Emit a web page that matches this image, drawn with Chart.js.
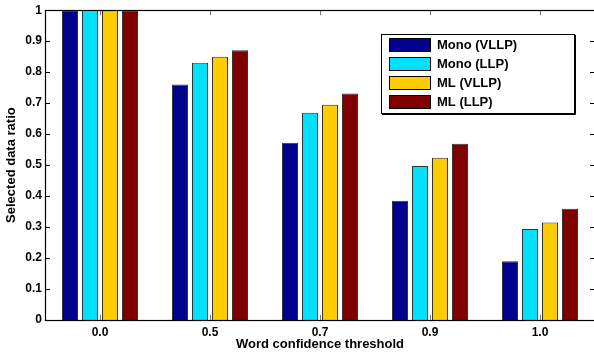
<!DOCTYPE html>
<html>
<head>
<meta charset="utf-8">
<script src="https://cdn.jsdelivr.net/npm/chart.js@4/dist/chart.umd.min.js"></script>
<style>
  html, body { margin: 0; padding: 0; background: #fff; overflow: hidden; }
  #wrap { width: 596px; height: 354px; }
</style>
</head>
<body>
<div id="wrap"><canvas id="c" width="596" height="354"></canvas></div>
<script>
// ---- data ----
const categories = ['0.0', '0.5', '0.7', '0.9', '1.0'];
const seriesNames = ['Mono (VLLP)', 'Mono (LLP)', 'ML (VLLP)', 'ML (LLP)'];
const monoVLLP = [1.0, 0.76, 0.572, 0.385, 0.19];
const monoLLP  = [1.0, 0.83, 0.669, 0.497, 0.294];
const mlVLLP   = [1.0, 0.85, 0.695, 0.524, 0.315];
const mlLLP    = [1.0, 0.871, 0.731, 0.569, 0.359];
const yTickValues = [0, 0.1, 0.2, 0.3, 0.4, 0.5, 0.6, 0.7, 0.8, 0.9, 1];
const yTickLabels = ['0', '0.1', '0.2', '0.3', '0.4', '0.5', '0.6', '0.7', '0.8', '0.9', '1'];
const xTitle = 'Word confidence threshold';
const yTitle = 'Selected data ratio';

const colors = ['#00008f', '#00e0ff', '#ffcc00', '#800000'];
const seriesValues = [monoVLLP, monoLLP, mlVLLP, mlLLP];

const FONT = 'Liberation Sans, Arial, Helvetica, sans-serif';

const framePlugin = {
  id: 'frame',
  beforeDatasetsDraw(chart) {
    const ctx = chart.ctx;
    const a = chart.chartArea;
    const x = chart.scales.x, y = chart.scales.y;
    ctx.save();
    ctx.strokeStyle = '#000';
    ctx.lineWidth = 1;
    // y ticks inward, both sides
    yTickValues.forEach(v => {
      const py = Math.round(y.getPixelForValue(v)) + 0.5;
      ctx.beginPath();
      ctx.moveTo(a.left, py); ctx.lineTo(a.left + 5, py);
      ctx.moveTo(a.right, py); ctx.lineTo(a.right - 5, py);
      ctx.stroke();
    });
    // x ticks inward, top and bottom
    ctx.strokeStyle = '#777';
    categories.forEach((c, i) => {
      const px = Math.round(x.getPixelForValue(i)) + 0.5;
      ctx.beginPath();
      ctx.moveTo(px, a.bottom); ctx.lineTo(px, a.bottom - 5);
      ctx.moveTo(px, a.top); ctx.lineTo(px, a.top + 5);
      ctx.stroke();
    });
    ctx.restore();
  },
  afterDatasetsDraw(chart) {
    const ctx = chart.ctx;
    const a = chart.chartArea;
    ctx.save();
    ctx.strokeStyle = '#000';
    ctx.lineWidth = 1.2;
    ctx.strokeRect(Math.round(a.left) + 0.5, Math.round(a.top) + 0.5,
                   Math.round(a.right - a.left), Math.round(a.bottom - a.top));
    // legend box
    const bx = 381, by = 34, bw = 193, bh = 79;
    ctx.fillStyle = '#fff';
    ctx.fillRect(bx, by, bw, bh);
    ctx.lineWidth = 1;
    ctx.strokeStyle = '#000';
    ctx.strokeRect(bx + 0.5, by + 0.5, bw, bh);
    ctx.beginPath();
    ctx.moveTo(bx + bw + 1.5, by + 1); ctx.lineTo(bx + bw + 1.5, by + bh + 1.5);
    ctx.lineTo(bx + 1, by + bh + 1.5);
    ctx.stroke();
    ctx.font = 'bold 13px ' + FONT;
    ctx.textBaseline = 'middle';
    ctx.textAlign = 'left';
    chart.data.datasets.forEach((ds, i) => {
      const ry = 38 + i * 19;
      ctx.fillStyle = ds.backgroundColor;
      ctx.fillRect(389, ry, 42, 14);
      ctx.strokeStyle = '#000';
      ctx.strokeRect(389.5, ry + 0.5, 41, 13);
      ctx.fillStyle = '#000';
      ctx.fillText(ds.label, 437, ry + 7.5);
    });
    ctx.restore();
  }
};

new Chart(document.getElementById('c'), {
  type: 'bar',
  data: {
    labels: categories,
    datasets: seriesNames.map((n, i) => ({
      label: n,
      data: seriesValues[i],
      backgroundColor: colors[i],
      borderColor: '#333',
      borderWidth: 1,
      barPercentage: 0.8,
      categoryPercentage: 80 / 110
    }))
  },
  options: {
    responsive: false,
    animation: false,
    devicePixelRatio: 1,
    layout: { padding: { top: 9, right: 1, left: 0, bottom: 0 } },
    plugins: { legend: { display: false }, tooltip: { enabled: false } },
    scales: {
      x: {
        offset: true,
        grid: { display: false, drawTicks: false },
        border: { display: false },
        ticks: { color: '#000', font: { family: FONT, size: 12, weight: 'bold' }, padding: 5, maxRotation: 0 },
        title: { display: true, text: xTitle, color: '#000',
                 font: { family: FONT, size: 13, weight: 'bold' }, padding: { top: 0, bottom: 2 } },
        afterFit(s) { s.height = 34; }
      },
      y: {
        min: 0, max: 1,
        afterBuildTicks(s) { s.ticks = yTickValues.map(v => ({ value: v })); },
        grid: { display: false, drawTicks: false },
        border: { display: false },
        ticks: {
          color: '#000', font: { family: FONT, size: 12, weight: 'bold' }, padding: 3,
          callback: (v, i) => yTickLabels[i]
        },
        title: { display: true, text: yTitle, color: '#000',
                 font: { family: FONT, size: 13, weight: 'bold' }, padding: { top: 4, bottom: 0 } },
        afterFit(s) { s.width = 45; }
      }
    }
  },
  plugins: [framePlugin]
});
</script>
</body>
</html>
